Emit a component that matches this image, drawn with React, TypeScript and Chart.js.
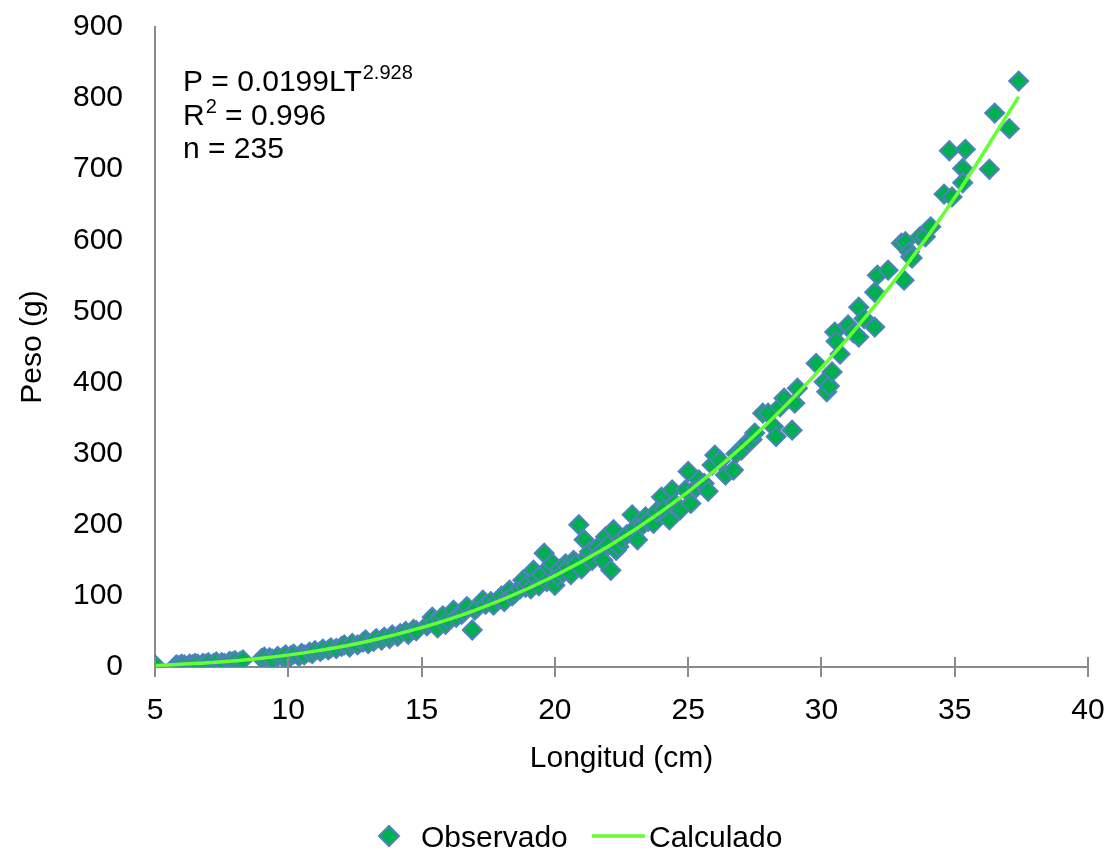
import React, { useEffect, useRef } from 'react';
import { Chart, registerables } from 'chart.js';

Chart.register(...registerables);

const lengthsCm = [
  5.0, 5.8, 5.9, 6.0, 6.1, 6.3, 6.4, 6.5, 6.6, 6.8, 6.9, 7.0, 7.2, 7.3, 7.5, 7.6, 7.8, 7.9, 8.0, 8.2, 8.3,
  9.0, 9.1, 9.3, 9.4, 9.6, 9.8, 9.9, 10.0, 10.1, 10.2, 10.4, 10.5, 10.6, 10.8, 10.9, 11.0, 11.2, 11.3, 11.5,
  11.6, 11.8, 12.0, 12.1, 12.3, 12.4, 12.6, 12.8, 12.9, 13.0, 13.2, 13.3, 13.5, 13.6, 13.8, 13.9, 14.1, 14.2,
  14.4, 14.5, 14.7, 14.8,
  15.2, 15.3, 15.4, 15.5, 15.6, 15.7, 15.8, 15.9, 16.0, 16.2, 16.3, 16.5, 16.6, 16.7, 16.9, 17.0, 17.1, 17.3,
  17.4, 17.6, 17.7, 17.9, 18.0, 18.1, 18.3, 18.4, 18.5, 18.7, 18.8, 18.9, 19.0, 19.1, 19.2, 19.3, 19.4, 19.5,
  19.6, 19.7, 19.8, 19.9, 20.0, 20.1, 20.2, 20.3, 20.4, 20.5, 20.6, 20.7, 20.8, 20.9, 21.0, 21.1, 21.2, 21.3,
  21.4, 21.6, 21.7, 21.8, 21.9, 22.0, 22.1, 22.2, 22.3, 22.4, 22.5, 22.7, 22.9, 23.0, 23.1, 23.3, 23.4, 23.5,
  23.7, 23.8, 24.0, 24.1, 24.3, 24.4, 24.5, 24.7, 24.9, 25.0, 25.1, 25.3, 25.4, 25.6, 25.75, 25.9, 26.0, 26.2,
  26.4, 26.7, 26.8, 27.0, 27.2, 27.4, 27.5, 27.8, 28.0, 28.2, 28.3, 28.45, 28.6, 28.9, 29.0, 29.1, 29.8, 30.1,
  30.2, 30.3, 30.4, 30.5, 30.55, 30.7, 31.0, 31.2, 31.4, 31.4, 31.6, 32.0, 32.0, 32.1, 32.5, 33.0, 33.1, 33.15,
  33.3, 33.35, 33.4, 33.7, 33.9, 34.1, 34.6, 34.8, 34.9, 35.3, 35.3, 35.4, 36.3, 36.5, 37.05, 37.4,
];
const weightsG = [
  3, 3, 2, 4, 3, 4, 3, 5, 4, 5, 4, 6, 5, 7, 6, 5, 8, 7, 9, 8, 10,
  12, 14, 13, 11, 15, 14, 17, 12, 16, 18, 15, 19, 17, 21, 19, 23, 22, 25, 24,
  27, 26, 29, 31, 28, 33, 31, 35, 38, 33, 36, 40, 38, 42, 40, 45, 43, 47,
  50, 46, 53, 51,
  58, 62, 70, 64, 55, 68, 72, 60, 66, 80, 70, 74, 78, 85, 52, 80, 84, 94,
  88, 92, 87, 95, 100, 92, 108, 100, 104, 110, 122, 112, 118, 110, 136, 124, 114, 130,
  160, 120, 140, 146, 115, 128, 138, 132, 145, 140, 130, 150, 146, 200, 138, 179, 155, 162,
  150, 168, 160, 150, 183, 172, 136, 193, 164, 169, 179, 186, 214, 195, 179, 200, 211, 205,
  202, 218, 239, 222, 207, 249, 230, 221, 249, 275, 230, 252, 263, 258, 247, 284, 298, 290,
  270, 277, 300, 305, 315, 320, 329, 357, 357, 338, 324, 366, 378, 333, 371, 392, 427, 401,
  387, 395, 415, 471, 458, 440, 481, 470, 506, 464, 490, 478, 527, 551, 558, 596, 544, 598,
  584, 577, 575, 605, 605, 619, 665, 726, 661, 701, 681, 728, 700, 779, 757, 824,
];

// Calculated (fitted) curve values
const curveLengths = [5, 7, 9, 11, 13, 15, 17, 19, 21, 23, 25, 27, 29, 31, 33, 35, 37.4];
const curveWeights = [2.2, 5.9, 12.4, 22.3, 36.3, 55.3, 79.7, 110.4, 148.0, 193.1, 246.4, 308.7, 380.6, 462.7, 555.6, 660.1, 802];

const xTicks = [5, 10, 15, 20, 25, 30, 35, 40];
const yTicks = [0, 100, 200, 300, 400, 500, 600, 700, 800, 900];
const seriesNames = ['Observado', 'Calculado'];
const axisTitles = ['Longitud (cm)', 'Peso (g)'];
const equationParts = ['P = 0.0199LT', '2.928', 'R', '2', ' = 0.996', 'n = 235'];

const FONT = '"Liberation Sans", Arial, sans-serif';
const AXIS = '#8a8a8a';
const MARK_FILL = '#00B050';
const MARK_BORDER = '#4F81BD';
const LINE_COLOR = '#66FF33';

const overlayPlugin = {
  id: 'overlay',
  afterDraw(chart: any) {
    const { ctx, chartArea, scales } = chart;
    const xs = scales.x;
    ctx.save();
    // tick marks crossing the x axis (upper half)
    ctx.strokeStyle = AXIS;
    ctx.lineWidth = 2;
    xTicks.forEach((v) => {
      const px = Math.round(xs.getPixelForValue(v));
      ctx.beginPath();
      ctx.moveTo(px, chartArea.bottom - 10);
      ctx.lineTo(px, chartArea.bottom);
      ctx.stroke();
    });

    // equation text
    ctx.fillStyle = '#000';
    ctx.textBaseline = 'alphabetic';
    ctx.textAlign = 'left';
    const x0 = 183;
    ctx.font = `30px ${FONT}`;
    ctx.fillText(equationParts[0], x0, 91);
    let w = ctx.measureText(equationParts[0]).width;
    ctx.font = `20px ${FONT}`;
    ctx.fillText(equationParts[1], x0 + w + 1, 79);

    ctx.font = `30px ${FONT}`;
    ctx.fillText(equationParts[2], x0, 125);
    w = ctx.measureText(equationParts[2]).width;
    ctx.font = `20px ${FONT}`;
    ctx.fillText(equationParts[3], x0 + w + 1, 113);
    const w2 = ctx.measureText(equationParts[3]).width;
    ctx.font = `30px ${FONT}`;
    ctx.fillText(equationParts[4], x0 + w + w2 + 1, 125);

    ctx.fillText(equationParts[5], x0, 158);

    // legend
    const ly = 836;
    const dx = 389;
    const r = 10;
    ctx.beginPath();
    ctx.moveTo(dx - r, ly);
    ctx.lineTo(dx, ly - r);
    ctx.lineTo(dx + r, ly);
    ctx.lineTo(dx, ly + r);
    ctx.closePath();
    ctx.fillStyle = MARK_FILL;
    ctx.fill();
    ctx.strokeStyle = MARK_BORDER;
    ctx.lineWidth = 2;
    ctx.stroke();

    ctx.fillStyle = '#000';
    ctx.font = `30px ${FONT}`;
    ctx.fillText(seriesNames[0], 421, 847);

    ctx.beginPath();
    ctx.moveTo(592, ly);
    ctx.lineTo(645, ly);
    ctx.strokeStyle = LINE_COLOR;
    ctx.lineWidth = 3.5;
    ctx.stroke();
    ctx.fillText(seriesNames[1], 649, 847);
    ctx.restore();
  },
};

export default function App() {
  const canvasRef = useRef<HTMLCanvasElement | null>(null);

  useEffect(() => {
    document.body.style.margin = '0';
    const canvas = canvasRef.current;
    if (!canvas) return;

    const observed = lengthsCm.map((l, i) => ({ x: l, y: weightsG[i] }));
    const calculated = curveLengths.map((l, i) => ({ x: l, y: curveWeights[i] }));

    const chart = new Chart(canvas, {
      type: 'scatter',
      data: {
        datasets: [
          {
            label: seriesNames[1],
            data: calculated,
            showLine: true,
            borderColor: LINE_COLOR,
            backgroundColor: LINE_COLOR,
            borderWidth: 3.5,
            pointRadius: 0,
            cubicInterpolationMode: 'monotone',
            order: 0,
          } as any,
          {
            label: seriesNames[0],
            data: observed,
            pointStyle: 'rectRot',
            pointRadius: 9.5,
            pointBackgroundColor: MARK_FILL,
            pointBorderColor: MARK_BORDER,
            pointBorderWidth: 2,
            backgroundColor: MARK_FILL,
            borderColor: MARK_BORDER,
            order: 1,
          } as any,
        ],
      },
      options: {
        responsive: false,
        animation: false,
        devicePixelRatio: 1,
        layout: { padding: { left: 15, right: 21, top: 27, bottom: 74 } },
        plugins: {
          legend: { display: false },
          tooltip: { enabled: false },
        },
        scales: {
          x: {
            type: 'linear',
            min: 5,
            max: 40,
            afterBuildTicks: (s: any) => {
              s.ticks = xTicks.map((v) => ({ value: v }));
            },
            afterFit: (s: any) => {
              s.height = 110;
              s.paddingLeft = 0;
              s.paddingRight = 0;
            },
            ticks: {
              color: '#000',
              font: { family: FONT, size: 30 },
              padding: 16,
              maxRotation: 0,
            },
            grid: {
              display: true,
              drawOnChartArea: false,
              drawTicks: true,
              tickLength: 10,
              color: AXIS,
              lineWidth: 2,
            },
            border: { display: true, color: AXIS, width: 2 },
            title: {
              display: true,
              text: axisTitles[0],
              color: '#000',
              font: { family: FONT, size: 30 },
              padding: { top: 0, bottom: 0 },
            },
          },
          y: {
            type: 'linear',
            min: 0,
            max: 900,
            afterBuildTicks: (s: any) => {
              s.ticks = yTicks.map((v) => ({ value: v }));
            },
            afterFit: (s: any) => {
              s.width = 140;
              s.paddingTop = 0;
              s.paddingBottom = 0;
            },
            ticks: {
              color: '#000',
              font: { family: FONT, size: 30 },
              padding: 32,
            },
            grid: { display: false, drawTicks: false },
            border: { display: true, color: AXIS, width: 2 },
            title: {
              display: true,
              text: axisTitles[1],
              color: '#000',
              font: { family: FONT, size: 30 },
              padding: { top: 0, bottom: 0 },
            },
          },
        },
      } as any,
      plugins: [overlayPlugin],
    });

    return () => {
      chart.destroy();
    };
  }, []);

  return (
    <div style={{ width: 1109, height: 851 }}>
      <canvas ref={canvasRef} width={1109} height={851} style={{ display: 'block' }} />
    </div>
  );
}
